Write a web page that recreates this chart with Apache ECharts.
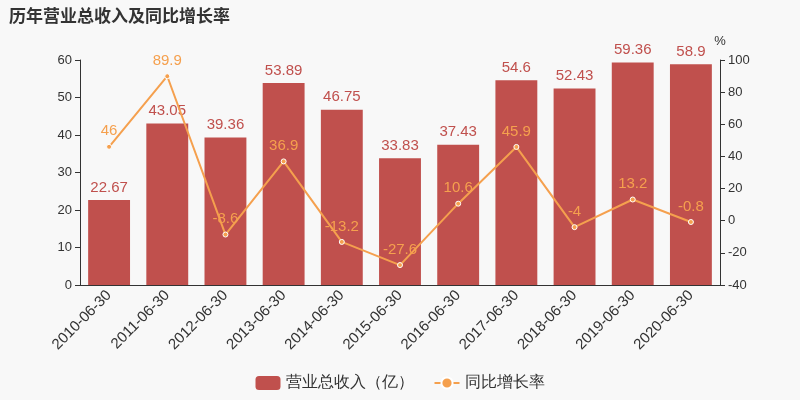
<!DOCTYPE html>
<html><head><meta charset="utf-8">
<script src="https://cdn.jsdelivr.net/npm/echarts@6/dist/echarts.min.js"></script>
<style>html,body{margin:0;background:#f8f8f8}#c{width:800px;height:400px}</style>
</head><body><div id="c"></div>
<script>
const categories=['2010-06-30','2011-06-30','2012-06-30','2013-06-30','2014-06-30','2015-06-30','2016-06-30','2017-06-30','2018-06-30','2019-06-30','2020-06-30'];
const revenue=[22.67,43.05,39.36,53.89,46.75,33.83,37.43,54.6,52.43,59.36,58.9];
const growth=[46,89.9,-8.6,36.9,-13.2,-27.6,10.6,45.9,-4,13.2,-0.8];
const c=echarts.init(document.getElementById('c'));
c.setOption({
backgroundColor:'#f8f8f8',
title:{text:'历年营业总收入及同比增长率',left:4,top:2,textStyle:{fontSize:17,fontWeight:'bold',color:'#333',fontFamily:'Noto Sans CJK SC'}},
legend:{bottom:4,itemGap:20,textStyle:{fontSize:16,color:'#333'},data:['营业总收入（亿）','同比增长率']},
grid:{left:80,right:80,top:60,bottom:115},
xAxis:{type:'category',data:categories,axisLabel:{rotate:45,fontSize:15,color:'#333',interval:0},axisLine:{lineStyle:{color:'#333'}},axisTick:{show:false}},
yAxis:[{type:'value',min:0,max:60,interval:10,splitLine:{show:false},axisLine:{show:true,lineStyle:{color:'#333'}},axisTick:{show:true},axisLabel:{color:'#333',fontSize:13}},
{type:'value',min:-40,max:100,interval:20,name:'%',nameGap:12,nameTextStyle:{color:'#333',fontSize:13,padding:[0,0,0,0]},splitLine:{show:false},axisLine:{show:true,lineStyle:{color:'#333'}},axisTick:{show:true},axisLabel:{color:'#333',fontSize:13}}],
series:[{name:'营业总收入（亿）',type:'bar',data:revenue,barWidth:'72%',itemStyle:{color:'#c0504d'},label:{show:true,position:'top',color:'#c0504d',fontSize:15}},
{name:'同比增长率',type:'line',yAxisIndex:1,data:growth,symbol:'circle',symbolSize:5,itemStyle:{color:'#f5a04e',borderColor:'#fff',borderWidth:1},lineStyle:{color:'#f5a04e',width:2},label:{show:true,position:'top',color:'#f5a04e',fontSize:15}}]
});
</script></body></html>
